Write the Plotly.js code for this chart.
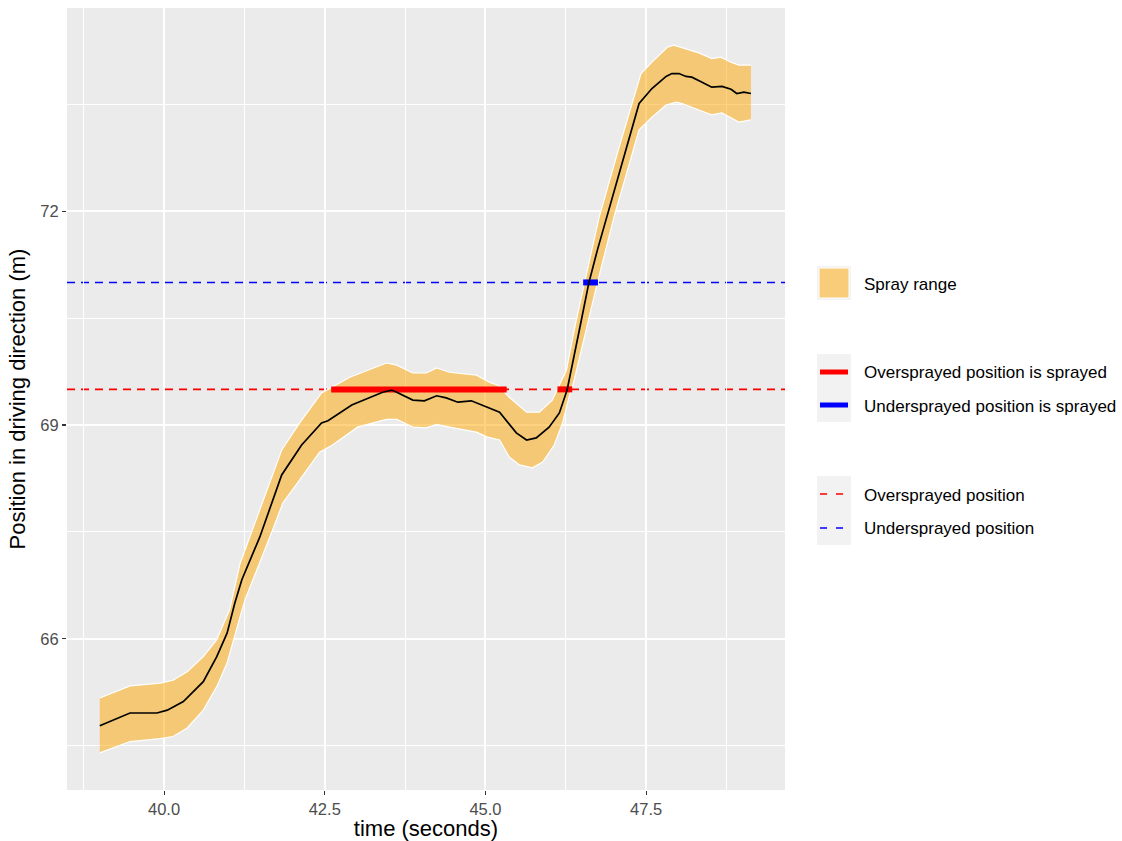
<!DOCTYPE html>
<html>
<head>
<meta charset="utf-8">
<script src="https://cdn.plot.ly/plotly-3.0.1.min.js"></script>
<style>html,body{margin:0;padding:0;background:#fff}#chart{width:1122px;height:841px}</style>
</head>
<body>
<div id="chart"></div>
<script>
// ---- data ----
const timeCenter = [39.00, 39.47, 39.89, 40.05, 40.30, 40.61, 40.82, 40.98, 41.10, 41.21, 41.49, 41.83, 42.14, 42.45, 42.55, 42.92, 43.40, 43.54, 43.62, 43.87, 44.05, 44.24, 44.39, 44.57, 44.78, 45.02, 45.11, 45.22, 45.48, 45.64, 45.79, 45.99, 46.15, 46.27, 46.46, 46.61, 46.74, 46.89, 47.13, 47.39, 47.59, 47.81, 47.90, 48.01, 48.12, 48.21, 48.37, 48.52, 48.68, 48.82, 48.91, 49.02, 49.13];
const posCenter = [64.78, 64.96, 64.96, 65.00, 65.12, 65.40, 65.75, 66.08, 66.50, 66.83, 67.43, 68.30, 68.72, 69.03, 69.06, 69.28, 69.46, 69.49, 69.46, 69.35, 69.34, 69.41, 69.38, 69.32, 69.34, 69.25, 69.21, 69.18, 68.89, 68.79, 68.82, 68.97, 69.17, 69.49, 70.33, 71.00, 71.45, 71.92, 72.67, 73.51, 73.72, 73.89, 73.93, 73.93, 73.89, 73.88, 73.81, 73.74, 73.75, 73.71, 73.65, 73.67, 73.65];

const timeUpper = [39.00, 39.47, 39.94, 40.14, 40.36, 40.61, 40.82, 41.02, 41.18, 41.49, 41.83, 42.11, 42.45, 42.89, 43.46, 43.62, 43.87, 44.08, 44.24, 44.44, 44.86, 45.06, 45.19, 45.37, 45.64, 45.84, 46.04, 46.26, 46.38, 46.54, 46.77, 47.08, 47.42, 47.59, 47.83, 47.93, 48.04, 48.32, 48.52, 48.66, 48.82, 48.94, 49.13];
const posUpper = [65.17, 65.34, 65.38, 65.42, 65.54, 65.75, 65.99, 66.41, 67.05, 67.81, 68.65, 69.03, 69.45, 69.67, 69.87, 69.84, 69.73, 69.73, 69.80, 69.74, 69.70, 69.60, 69.56, 69.39, 69.18, 69.18, 69.35, 69.77, 70.33, 70.99, 71.92, 72.90, 73.93, 74.09, 74.30, 74.33, 74.30, 74.22, 74.14, 74.16, 74.09, 74.05, 74.05];

const timeLower = [39.00, 39.47, 39.94, 40.14, 40.36, 40.61, 40.82, 40.98, 41.18, 41.26, 41.69, 41.85, 42.11, 42.42, 42.62, 43.01, 43.46, 43.62, 43.87, 44.08, 44.24, 44.44, 44.86, 45.03, 45.22, 45.37, 45.53, 45.73, 45.89, 46.07, 46.20, 46.30, 46.38, 46.74, 47.00, 47.39, 47.59, 47.81, 47.97, 48.06, 48.32, 48.52, 48.68, 48.84, 48.94, 49.13];
const posLower = [64.40, 64.56, 64.60, 64.63, 64.75, 65.00, 65.33, 65.66, 66.30, 66.55, 67.53, 67.91, 68.23, 68.62, 68.72, 68.97, 69.08, 69.08, 68.97, 68.96, 69.01, 68.97, 68.90, 68.83, 68.79, 68.55, 68.44, 68.40, 68.48, 68.72, 69.03, 69.39, 69.63, 70.99, 71.92, 73.14, 73.32, 73.49, 73.53, 73.51, 73.42, 73.35, 73.38, 73.30, 73.25, 73.28];

const oversprayedPosition = 69.5;
const undersprayedPosition = 71.0;
const overSprayStart = [42.60, 46.12];
const overSprayEnd   = [45.33, 46.35];
const underSprayStart = [46.52];
const underSprayEnd   = [46.75];

const xTickVals = [40, 42.5, 45, 47.5];
const xTickText = ['40.0', '42.5', '45.0', '47.5'];
const yTickVals = [66, 69, 72];
const yTickText = ['66', '69', '72'];

const legendLabels = {
  ribbon: 'Spray range',
  overSprayed: 'Oversprayed position is sprayed',
  underSprayed: 'Undersprayed position is sprayed',
  overPos: 'Oversprayed position',
  underPos: 'Undersprayed position'
};

// ---- helpers ----
function segments(starts, ends, level) {
  const x = [], y = [];
  starts.forEach((s, i) => { x.push(s, ends[i], null); y.push(level, level, null); });
  return {x, y};
}
const L = 67, R = 785, T = 8, B = 790;
const px = p => (p - L) / (R - L);
const py = p => (B - p) / (B - T);

const orangeFill = 'rgba(255,165,0,0.5)';
const FONT = 'Liberation Sans, Arial, Helvetica, sans-serif';

const ribbonX = timeUpper.concat(timeLower.slice().reverse());
const ribbonY = posUpper.concat(posLower.slice().reverse());
const overSeg = segments(overSprayStart, overSprayEnd, oversprayedPosition);
const underSeg = segments(underSprayStart, underSprayEnd, undersprayedPosition);

const traces = [
  {x: ribbonX, y: ribbonY, type: 'scatter', mode: 'lines', fill: 'toself', fillcolor: orangeFill,
   line: {width: 0, color: 'rgba(0,0,0,0)'}, hoverinfo: 'skip', name: legendLabels.ribbon},
  {x: timeUpper, y: posUpper, type: 'scatter', mode: 'lines', line: {color: '#FFFFFF', width: 1.2}, hoverinfo: 'skip'},
  {x: timeLower, y: posLower, type: 'scatter', mode: 'lines', line: {color: '#FFFFFF', width: 1.2}, hoverinfo: 'skip'},
  {x: overSeg.x, y: overSeg.y, type: 'scatter', mode: 'lines', line: {color: '#FF0000', width: 6}, name: legendLabels.overSprayed},
  {x: underSeg.x, y: underSeg.y, type: 'scatter', mode: 'lines', line: {color: '#0000FF', width: 6}, name: legendLabels.underSprayed},
  {x: timeCenter, y: posCenter, type: 'scatter', mode: 'lines', line: {color: '#000000', width: 1.7}, name: 'position'}
];

const shapes = [
  {type: 'line', xref: 'paper', x0: 0, x1: 1, yref: 'y', y0: oversprayedPosition, y1: oversprayedPosition,
   line: {color: '#FF0000', width: 1.6, dash: '8px,6px'}, layer: 'between'},
  {type: 'line', xref: 'paper', x0: 0, x1: 1, yref: 'y', y0: undersprayedPosition, y1: undersprayedPosition,
   line: {color: '#0000FF', width: 1.6, dash: '8px,6px'}, layer: 'between'},
  // legend keys
  {type: 'rect', xref: 'paper', yref: 'paper', x0: px(817), x1: px(851), y0: py(300), y1: py(266), fillcolor: '#F2F2F2', line: {width: 0}},
  {type: 'rect', xref: 'paper', yref: 'paper', x0: px(819), x1: px(849), y0: py(298), y1: py(268), fillcolor: orangeFill, line: {width: 1, color: '#FFFFFF'}},
  {type: 'rect', xref: 'paper', yref: 'paper', x0: px(817), x1: px(851), y0: py(422), y1: py(354), fillcolor: '#F2F2F2', line: {width: 0}},
  {type: 'line', xref: 'paper', yref: 'paper', x0: px(820), x1: px(848), y0: py(372), y1: py(372), line: {color: '#FF0000', width: 5}},
  {type: 'line', xref: 'paper', yref: 'paper', x0: px(820), x1: px(848), y0: py(405), y1: py(405), line: {color: '#0000FF', width: 5}},
  {type: 'rect', xref: 'paper', yref: 'paper', x0: px(817), x1: px(851), y0: py(545), y1: py(476), fillcolor: '#F2F2F2', line: {width: 0}},
  {type: 'line', xref: 'paper', yref: 'paper', x0: px(820), x1: px(848), y0: py(494), y1: py(494), line: {color: '#FF0000', width: 1.5, dash: '7px,9px'}},
  {type: 'line', xref: 'paper', yref: 'paper', x0: px(820), x1: px(848), y0: py(528), y1: py(528), line: {color: '#0000FF', width: 1.5, dash: '7px,9px'}}
];

function legText(text, yPix) {
  return {text: text, xref: 'paper', yref: 'paper', x: px(862), y: py(yPix), xanchor: 'left', yanchor: 'middle',
          showarrow: false, font: {family: FONT, size: 17, color: '#000000'}};
}
const annotations = [
  legText(legendLabels.ribbon, 284),
  legText(legendLabels.overSprayed, 372),
  legText(legendLabels.underSprayed, 406),
  legText(legendLabels.overPos, 495),
  legText(legendLabels.underPos, 528)
];

const layout = {
  width: 1122, height: 841,
  margin: {l: L, r: 1122 - R, t: T, b: 841 - B, pad: 0},
  paper_bgcolor: '#FFFFFF', plot_bgcolor: '#EBEBEB',
  font: {family: FONT, color: '#000000'},
  showlegend: false,
  xaxis: {
    range: [38.49, 49.66], tickmode: 'array', tickvals: xTickVals, ticktext: xTickText,
    ticks: 'outside', ticklen: 4, tickwidth: 1.1, tickcolor: '#333333',
    tickfont: {size: 16.5, color: '#4D4D4D'},
    showgrid: true, gridcolor: '#FFFFFF', gridwidth: 2, zeroline: false, showline: false,
    minor: {tick0: 38.75, dtick: 2.5, showgrid: true, gridcolor: '#FFFFFF', gridwidth: 1, ticks: ''},
    title: {text: 'time (seconds)', font: {size: 22, color: '#000000'}, standoff: 4},
    automargin: false, fixedrange: true
  },
  yaxis: {
    range: [63.88, 74.85], tickmode: 'array', tickvals: yTickVals, ticktext: yTickText,
    ticks: 'outside', ticklen: 4, tickwidth: 1.1, tickcolor: '#333333',
    tickfont: {size: 16.5, color: '#4D4D4D'},
    showgrid: true, gridcolor: '#FFFFFF', gridwidth: 2, zeroline: false, showline: false,
    minor: {tick0: 64.5, dtick: 3, showgrid: true, gridcolor: '#FFFFFF', gridwidth: 1, ticks: ''},
    title: {text: 'Position in driving direction (m)', font: {size: 22, color: '#000000'}, standoff: 8},
    automargin: false, fixedrange: true
  },
  shapes: shapes,
  annotations: annotations
};

Plotly.newPlot('chart', traces, layout, {displayModeBar: false, staticPlot: true});
</script>
</body>
</html>
